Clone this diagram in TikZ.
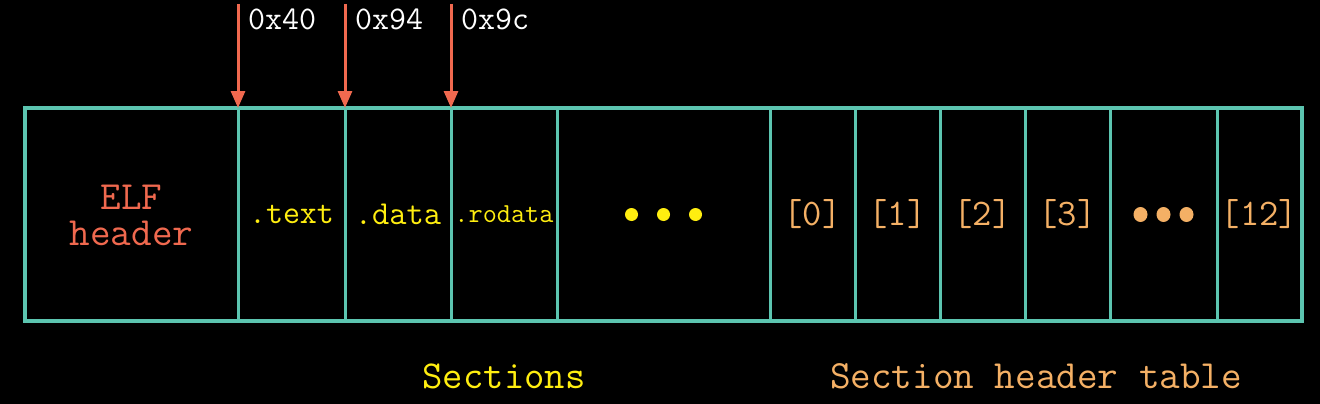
\documentclass[tikz,border=0pt]{standalone}
\usepackage{fontspec}
\usetikzlibrary{arrows.meta,positioning}
\definecolor{boxteal}{HTML}{5CC5B0}
\definecolor{ptrred}{HTML}{F0694F}
\definecolor{secyellow}{HTML}{FFEE10}
\definecolor{shorange}{HTML}{F4B065}
\newcommand{\tts}[1]{\ttfamily\fontsize{#1}{1.0\dimexpr#1pt\relax}\selectfont}

\begin{document}
\begin{tikzpicture}[x=1pt,y=1pt,line join=miter,
  cell/.style={draw=boxteal,line width=3pt,rectangle,outer sep=0pt,inner sep=0pt,
    minimum height=213pt,anchor=west},
  ptr/.style={draw=ptrred,line width=3pt,-{Triangle[width=14pt,length=17pt]}},
  addr/.style={white,font=\tts{33},anchor=west,inner sep=0pt}]
  \fill[black] (0,0) rectangle (1320,-404);
  \useasboundingbox (0,0) rectangle (1320,-404);

  \node[cell,minimum width=213pt] (E) at (25,-214.5) {};
  \node[cell,minimum width=107pt,text=secyellow,font=\tts{33}] (T) at (E.east) {.text};
  \node[cell,minimum width=106pt,text=secyellow,font=\tts{33.5}] (D) at (T.east) {.data};
  \node[cell,minimum width=106pt,text=secyellow,font=\tts{27.5}] (R) at (D.east) {.rodata};
  \node[cell,minimum width=213pt] (M) at (R.east) {};
  \node[cell,minimum width=85pt,text=shorange,font=\tts{37.5}] (S0) at (M.east) {[0]};
  \node[cell,minimum width=85pt,text=shorange,font=\tts{37.5}] (S1) at (S0.east) {[1]};
  \node[cell,minimum width=85pt,text=shorange,font=\tts{37.5}] (S2) at (S1.east) {[2]};
  \node[cell,minimum width=85pt,text=shorange,font=\tts{37.5}] (S3) at (S2.east) {[3]};
  \node[cell,minimum width=107pt] (SM) at (S3.east) {};
  \node[cell,minimum width=85pt,text=shorange,font=\tts{37.5}] (S12) at (SM.east) {[12]};
  \draw[boxteal,line width=4.5pt] (E.north west) rectangle (S12.south east);

  \node[anchor=base,inner sep=0pt,text=ptrred,font=\tts{40}] (elf) at ([yshift=5.5pt]E.center) {ELF};
  \node[anchor=base,inner sep=0pt,text=ptrred,font=\tts{40}] (hdr) at ([yshift=-30.5pt]E.center) {header};

  \foreach \dx in {-32,0,32}
    \fill[secyellow] ([xshift=\dx pt]M.center) circle (6.5pt);
  \foreach \dx in {-23,0,23}
    \fill[shorange] ([xshift=\dx pt]SM.center) ellipse (7pt and 7.5pt);

  \coordinate (a40) at ([yshift=104pt]T.north west);
  \coordinate (a94) at ([yshift=104pt]D.north west);
  \coordinate (a9c) at ([yshift=104pt]R.north west);
  \draw[ptr] (a40) -- (T.north west);
  \draw[ptr] (a94) -- (D.north west);
  \draw[ptr] (a9c) -- (R.north west);
  \node[addr] (l40) at ([xshift=10pt,yshift=-15pt]a40) {0x40};
  \node[addr] (l94) at ([xshift=10pt,yshift=-15pt]a94) {0x94};
  \node[addr] (l9c) at ([xshift=10pt,yshift=-15pt]a9c) {0x9c};

  \node[text=secyellow,font=\tts{39.5}] (secs) at (504,-376) {Sections};
  \node[text=shorange,font=\tts{40}] (shtab) at (1036,-376) {Section header table};
\end{tikzpicture}
\end{document}
